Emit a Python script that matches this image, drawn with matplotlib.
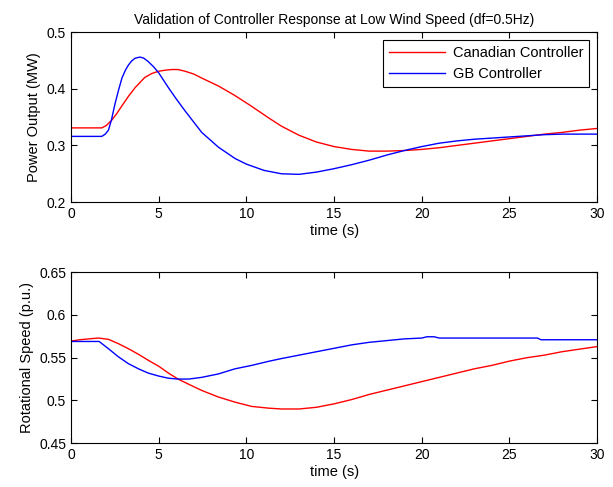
import matplotlib
matplotlib.use("Agg")
import matplotlib.pyplot as plt
from matplotlib.ticker import FuncFormatter

plt.rcParams['font.family'] = ['Liberation Sans', 'DejaVu Sans']

# ---- Data: Power output ----
t_can_p = [0, 1, 1.75, 2.0, 2.3, 2.6, 2.9, 3.3, 3.65, 4.2, 4.6, 5.0, 5.4, 5.75, 6.1, 6.5, 7.0,
           7.45, 8.4, 9.35, 10.3, 11.25, 12, 13, 14, 15, 16, 17, 18, 19, 20, 21, 22, 23, 24,
           25, 26, 27, 28, 29, 30]
p_can = [0.331, 0.331, 0.331, 0.335, 0.344, 0.356, 0.370, 0.388, 0.402, 0.420, 0.427, 0.431,
         0.433, 0.434, 0.434, 0.431, 0.426, 0.419, 0.405, 0.388, 0.369, 0.349, 0.334, 0.318,
         0.306, 0.298, 0.293, 0.290, 0.290, 0.291, 0.293, 0.296, 0.300, 0.304, 0.308, 0.312,
         0.316, 0.320, 0.323, 0.327, 0.330]

t_gb_p = [0, 1, 1.75, 1.95, 2.13, 2.3, 2.5, 2.7, 2.9, 3.1, 3.27, 3.45, 3.65, 3.93, 4.15, 4.4,
          4.7, 5.0, 5.55, 6.0, 6.5, 7.0, 7.45, 8.0, 8.4, 9.35, 10, 11, 12, 13, 14, 15, 16, 17,
          18, 19, 20, 21, 22, 23, 24, 25, 26, 27, 28, 29, 30]
p_gb = [0.316, 0.316, 0.316, 0.320, 0.327, 0.345, 0.373, 0.397, 0.419, 0.433, 0.442, 0.449,
        0.454, 0.456, 0.454, 0.448, 0.439, 0.428, 0.402, 0.382, 0.361, 0.341, 0.323, 0.308,
        0.297, 0.277, 0.267, 0.256, 0.250, 0.249, 0.253, 0.259, 0.266, 0.274, 0.283, 0.291,
        0.298, 0.304, 0.308, 0.311, 0.313, 0.315, 0.317, 0.319, 0.320, 0.320, 0.320]

# ---- Data: Rotational speed ----
t_can_w = [0, 0.5, 1.0, 1.56, 2.13, 2.7, 3.27, 3.84, 4.4, 5.0, 5.55, 6.1, 6.7, 7.45, 8.4, 9.35,
           10.3, 11.25, 12, 13, 14, 15, 16, 17, 18, 19, 20, 21, 22, 23, 24, 25, 26, 27, 28,
           29, 30]
w_can = [0.5695, 0.571, 0.572, 0.573, 0.5715, 0.5664, 0.5605, 0.554, 0.547, 0.540, 0.532,
         0.525, 0.519, 0.5117, 0.504, 0.498, 0.493, 0.491, 0.490, 0.490, 0.492, 0.496, 0.501,
         0.507, 0.512, 0.517, 0.522, 0.527, 0.532, 0.537, 0.541, 0.546, 0.550, 0.553, 0.557,
         0.560, 0.563]

t_gb_w = [0, 1.6, 2.13, 2.7, 3.27, 3.84, 4.4, 5.0, 5.55, 6.1, 6.7, 7.45, 8.4, 9.35, 10.3,
          11.25, 12, 13, 14, 15, 16, 17, 18, 19, 20, 20.3, 20.7, 21, 26.6, 26.8, 30]
w_gb = [0.569, 0.569, 0.5605, 0.551, 0.543, 0.537, 0.532, 0.5285, 0.526, 0.525, 0.525, 0.527,
        0.531, 0.537, 0.541, 0.5457, 0.549, 0.553, 0.557, 0.561, 0.565, 0.568, 0.570, 0.572,
        0.573, 0.5745, 0.5745, 0.573, 0.573, 0.571, 0.571]

title = "Validation of Controller Response at Low Wind Speed (df=0.5Hz)"
labels = ["Canadian Controller", "GB Controller"]

fig = plt.figure(figsize=(6.13, 4.87), dpi=100)
ax1 = fig.add_axes([0.116, 0.585, 0.858, 0.349])
ax2 = fig.add_axes([0.116, 0.090, 0.858, 0.351])

fs = 10
fl = 10.5
ax1.plot(t_can_p, p_can, color='#ff0000', lw=1, label=labels[0])
ax1.plot(t_gb_p, p_gb, color='#0000ff', lw=1, label=labels[1])
ax1.set_xlim(0, 30)
ax1.set_ylim(0.2, 0.5)
ax1.set_yticks([0.2, 0.3, 0.4, 0.5])
ax1.set_xticks([0, 5, 10, 15, 20, 25, 30])
ax1.set_title(title, fontsize=fs, pad=6)
ax1.set_ylabel("Power Output (MW)", fontsize=fl)
ax1.set_xlabel("time (s)", fontsize=fl, labelpad=2)
leg = ax1.legend(loc='upper right', fontsize=fl, fancybox=False, edgecolor='black',
                 framealpha=1, borderaxespad=0.55, handlelength=3.9, handletextpad=0.5,
                 labelspacing=0.5)
leg.get_frame().set_linewidth(0.8)

ax2.plot(t_can_w, w_can, color='#ff0000', lw=1)
ax2.plot(t_gb_w, w_gb, color='#0000ff', lw=1)
ax2.set_xlim(0, 30)
ax2.set_ylim(0.45, 0.65)
ax2.set_yticks([0.45, 0.5, 0.55, 0.6, 0.65])
ax2.set_xticks([0, 5, 10, 15, 20, 25, 30])
ax2.set_ylabel("Rotational Speed (p.u.)", fontsize=fl)
ax2.set_xlabel("time (s)", fontsize=fl, labelpad=2)

fmt = FuncFormatter(lambda v, p: f"{v:g}")
for ax in (ax1, ax2):
    ax.yaxis.set_major_formatter(fmt)
    ax.tick_params(direction='in', top=True, right=True, labelsize=fs, length=4)
    for s in ax.spines.values():
        s.set_linewidth(0.8)

fig.savefig("out.png", dpi=100)
